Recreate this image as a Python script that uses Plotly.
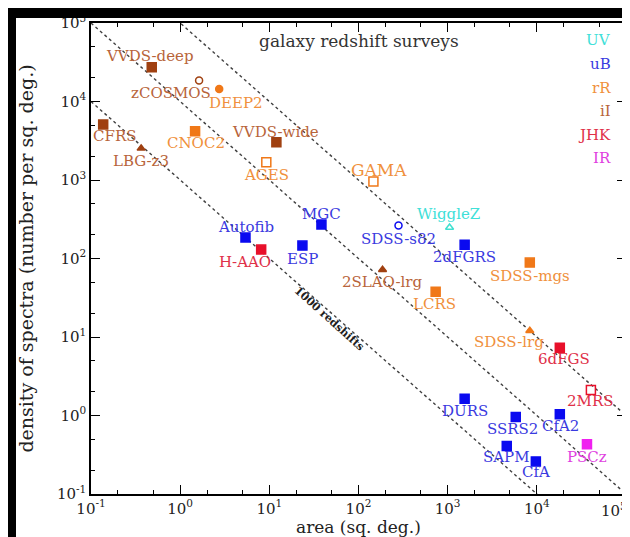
import numpy as np
import plotly.graph_objects as go

# ---------------- data ----------------
surveys = ["VVDS-deep", "zCOSMOS", "DEEP2", "CFRS", "LBG-z3", "CNOC2", "VVDS-wide", "AGES",
           "GAMA", "Autofib", "H-AAO", "ESP", "MGC", "SDSS-s82", "WiggleZ", "2dFGRS",
           "SDSS-mgs", "2SLAQ-lrg", "LCRS", "SDSS-lrg", "6dFGS", "2MRS", "DURS", "SSRS2",
           "CfA2", "PSCz", "SAPM", "CfA"]
area = [0.48, 1.63, 2.74, 0.137, 0.365, 1.47, 12.0, 9.25,
        147, 5.4, 8.1, 23.5, 38.4, 281, 1050, 1550,
        8340, 186, 733, 8340, 18100, 40400, 1550, 5800,
        18100, 36500, 4600, 9750]
density = [27400, 18500, 14400, 5100, 2530, 4180, 3020, 1680,
           960, 185, 130, 146, 271, 263, 248, 150,
           88.7, 72, 37.8, 12.0, 7.28, 2.12, 1.63, 0.96,
           1.04, 0.43, 0.41, 0.26]
band = ["iI", "iI", "rR", "iI", "iI", "rR", "iI", "rR",
        "rR", "uB", "JHK", "uB", "uB", "uB", "UV", "uB",
        "rR", "iI", "rR", "rR", "JHK", "JHK", "uB", "uB",
        "uB", "IR", "uB", "uB"]
symbol = ["square", "circle-open", "circle", "square", "triangle-up", "square", "square", "square-open",
          "square-open", "square", "square", "square", "square", "circle-open", "triangle-up-open", "square",
          "square", "triangle-up", "square", "triangle-up", "square", "square-open", "square", "square",
          "square", "square", "square", "square"]
bands = ["UV", "uB", "rR", "iI", "JHK", "IR"]
n_redshifts = [1e3, 1e4, 1e5]
x_tick_exp = [-1, 0, 1, 2, 3, 4, 5]
y_tick_exp = [-1, 0, 1, 2, 3, 4, 5]

# ---------------- styles ----------------
marker_color = {"UV": "#40e0d0", "uB": "#0a0af0", "rR": "#f07818", "iI": "#a04010",
                "JHK": "#e8102a", "IR": "#f020f0"}
text_color = {"UV": "#40e0d8", "uB": "#3a3ae0", "rR": "#f0903c", "iI": "#b8643a",
              "JHK": "#e03048", "IR": "#e040e0"}
# label offsets in pixels (dx, dy up)
label_shift = {"VVDS-deep": (-2, 11), "zCOSMOS": (-28, -12), "DEEP2": (17, -14), "CFRS": (11, -12),
               "LBG-z3": (0, -13), "CNOC2": (1, -12), "VVDS-wide": (-1, 10), "AGES": (0, -13),
               "GAMA": (6, 11), "Autofib": (1, 11), "H-AAO": (-16, -12), "ESP": (0, -13),
               "MGC": (0, 11), "SDSS-s82": (0, -13), "WiggleZ": (-1, 14), "2dFGRS": (0, -12),
               "SDSS-mgs": (0, -13), "2SLAQ-lrg": (-1, -12), "LCRS": (-1, -12), "SDSS-lrg": (-21, -11),
               "6dFGS": (4, -11), "2MRS": (-1, -11), "DURS": (0, -12), "SSRS2": (-3, -12),
               "CfA2": (1, -12), "PSCz": (0, -13), "SAPM": (0, -11), "CfA": (0, -11)}

FONT = "DejaVu Serif"
fig = go.Figure()

# constant-N dotted lines
xl = np.logspace(-1, 5, 50)
for n in n_redshifts:
    fig.add_trace(go.Scatter(x=xl, y=n / xl, mode="lines",
                             line=dict(color="#404040", width=1.4, dash="dot"),
                             hoverinfo="skip", showlegend=False))

for s, a, d, b, sym in zip(surveys, area, density, band, symbol):
    size = 9 if "square" in sym else 7
    fig.add_trace(go.Scatter(x=[a], y=[d], mode="markers",
                             marker=dict(symbol=sym, size=size, color=marker_color[b],
                                         line=dict(width=1.5, color=marker_color[b])),
                             showlegend=False, name=s))
    dx, dy = label_shift[s]
    fig.add_annotation(x=np.log10(a), y=np.log10(d), text=s, showarrow=False,
                       xshift=dx, yshift=dy, xanchor="center", yanchor="middle",
                       font=dict(family=FONT, size=17 if s == "GAMA" else 15, color=text_color[b]))

# band legend
for i, b in enumerate(bands):
    fig.add_annotation(xref="paper", yref="paper", x=0.975, y=0.963 - i * 0.05,
                       text=b, showarrow=False, xanchor="right", yanchor="middle",
                       font=dict(family=FONT, size=15, color=text_color[b]))

fig.add_annotation(xref="paper", yref="paper", x=0.5, y=0.961, text="galaxy redshift surveys",
                   showarrow=False, xanchor="center", yanchor="middle",
                   font=dict(family=FONT, size=17, color="#333333"))

# 1000 redshifts label
fig.add_annotation(x=np.log10(52), y=np.log10(19), text="<b>1000 redshifts</b>", showarrow=False,
                   textangle=42, xshift=-4, yshift=-3, xanchor="center", yanchor="middle",
                   font=dict(family=FONT, size=11, color="#202020"))

# last x tick label, kept inside the picture
fig.add_annotation(xref="paper", x=1 + 3 / 535, yref="paper", y=0, text="10<sup>5</sup>",
                   showarrow=False, xanchor="right", yanchor="top", yshift=-4,
                   font=dict(family=FONT, size=15, color="#222222"))

# x axis title
fig.add_annotation(xref="paper", x=0.5, yref="paper", y=0, text="area (sq. deg.)",
                   showarrow=False, xanchor="center", yanchor="middle", yshift=-33,
                   font=dict(family=FONT, size=17, color="#222222"))

# black strips at left/top of picture
fig.add_shape(type="rect", xref="paper", yref="paper", x0=-0.5, x1=-75 / 535,
              y0=-0.5, y1=1.5, fillcolor="black", line=dict(width=0), layer="above")
fig.add_shape(type="rect", xref="paper", yref="paper", x0=-0.5, x1=1.5,
              y0=1 + 5 / 470, y1=1.5, fillcolor="black", line=dict(width=0), layer="above")

axis_common = dict(type="log", showgrid=False, zeroline=False, ticks="inside", ticklen=9,
                   tickwidth=1.2, tickcolor="black", showline=True, linecolor="black",
                   linewidth=1.5, mirror="allticks", automargin=False,
                   minor=dict(ticks="inside", ticklen=4, tickcolor="black", tickwidth=1, showgrid=False),
                   tickfont=dict(family=FONT, size=15, color="#222222"))
fig.update_xaxes(range=[-1, 5], tickvals=[10.0 ** e for e in x_tick_exp[:-1]],
                 ticktext=["10<sup>%d</sup>" % e for e in x_tick_exp[:-1]], **axis_common)
fig.update_yaxes(range=[-1, 5], tickvals=[10.0 ** e for e in y_tick_exp],
                 ticktext=["10<sup>%d</sup>" % e for e in y_tick_exp],
                 title=dict(text="density of spectra (number per sq. deg.)",
                            font=dict(family=FONT, size=19, color="#222222"), standoff=18),
                 **axis_common)

fig.update_layout(width=630, height=537, margin=dict(l=83, r=12, t=15, b=51),
                  paper_bgcolor="white", plot_bgcolor="white", showlegend=False)

fig.write_html("out.html")
